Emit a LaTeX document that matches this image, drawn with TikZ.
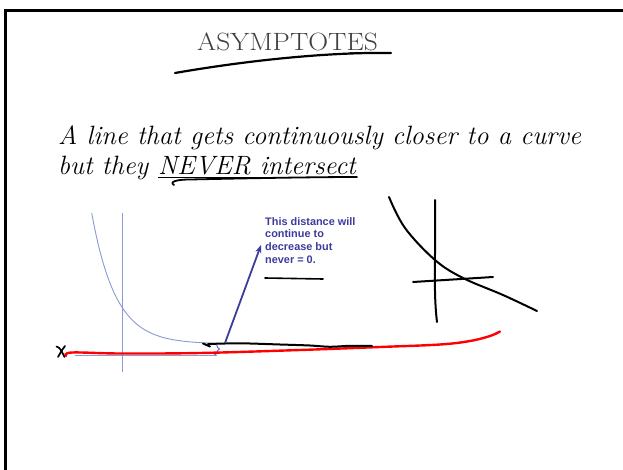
\documentclass[tikz,border=0pt]{standalone}
\usepackage{fontspec}
\newfontfamily\arialfont{Liberation Sans}
\usetikzlibrary{arrows.meta}
\definecolor{graphblue}{HTML}{8A9AD2}
\definecolor{notenavy}{HTML}{3C3C9C}
\begin{document}
\begin{tikzpicture}[x=1pt,y=-1pt,
  ink/.style={line width=2.2pt,line cap=round,line join=round},
  textline/.style={anchor=base west,inner sep=0pt,font=\fontsize{26.5}{30}\selectfont\itshape},
  gline/.style={graphblue,line width=0.9pt}]
\useasboundingbox (0,0) rectangle (623,470);
\fill[white] (0,0) rectangle (623,470);
% frame
\draw[line width=3pt] (5,472) -- (5,11) -- (625,11);
% title
\node[anchor=base west,inner sep=0pt,font=\fontsize{25}{30}\selectfont,text=black!75] (title) at (197,51) {\scalebox{1.1}[1]{ASYMPTOTES}};
\draw[line width=0.7pt,black!70] ([xshift=-28pt,yshift=-1.5pt]title.base east) -- ([xshift=10pt,yshift=-1.5pt]title.base east);
\draw[ink] (175,73) .. controls (250,60) and (330,52) .. (391,53);
% main text
\node[textline] (line1) at (58,145) {A line that gets continuously closer to a curve};
\node[textline] (line2) at (58,175) {but they};
\node[textline] (never) at (158,175) {NEVER intersect};
\draw[line width=0.6pt] ([yshift=-2pt]never.base west) -- ([yshift=-2pt]never.base east);
\draw[ink,line width=1.8pt] (174,185) .. controls (169,182) and (176,179.5) .. (190,179.5) .. controls (260,178) and (320,177) .. (357,177);
% left graph
\draw[gline] (122,213) -- (122,372);
\draw[gline] (75,355) -- (217,355);
\draw[gline] plot[domain=91.7:213,samples=60] (\x,{344-131*exp(-0.0419*(\x-91.7))});
\draw[graphblue!70!blue,line width=0.9pt] (214,343) .. controls (218,343) and (216,348) .. (219.5,349) .. controls (216,350) and (218,355) .. (214,355);
% red line
\draw[red,line width=2.4pt,line cap=round] plot[smooth,tension=0.6] coordinates {(66,356) (72,352.5) (120,353.5) (200,353) (300,350) (380,347) (440,344.5) (470,341) (490,336) (500,331.5)};
% x mark
\draw[ink,line width=1.7pt] (56.5,346.5) .. controls (60,347) and (62,352) .. (64.5,357);
\draw[ink,line width=1.7pt] (65,346) .. controls (62,350) .. (58,357);
% black hand line
\draw[ink,line width=2pt] (203,343.5) -- (210,346.5);
\draw[ink,line width=2pt] plot[smooth,tension=0.5] coordinates {(208,344) (240,343.3) (280,344.5) (310,345.5) (330,346.8) (350,345.8) (372,346)};
% note and arrow
\node[anchor=north west,align=left,inner sep=0pt,text=notenavy,font=\arialfont\bfseries\fontsize{10.9}{12.8}\selectfont] (note) at (265,217) {This distance will\\continue to\\decrease but\\never = 0.};
\coordinate (arrowfoot) at (225,343);
\coordinate (arrowtip) at (261,245);
\draw[notenavy,line width=1.8pt,-{Stealth[length=8pt,width=6pt]}] (arrowfoot) -- (arrowtip);
\draw[ink,line width=1.6pt] (265,278) -- (323,279);
% right sketch
\draw[ink,line width=2pt] plot[smooth,tension=0.6] coordinates {(389,197) (405,228) (435,260) (463,278) (503,295) (537,311)};
\draw[ink,line width=2pt] (435,200) .. controls (436,250) and (433,290) .. (437,322);
\draw[ink,line width=2pt] (413,282) -- (493,277);
\end{tikzpicture}
\end{document}
